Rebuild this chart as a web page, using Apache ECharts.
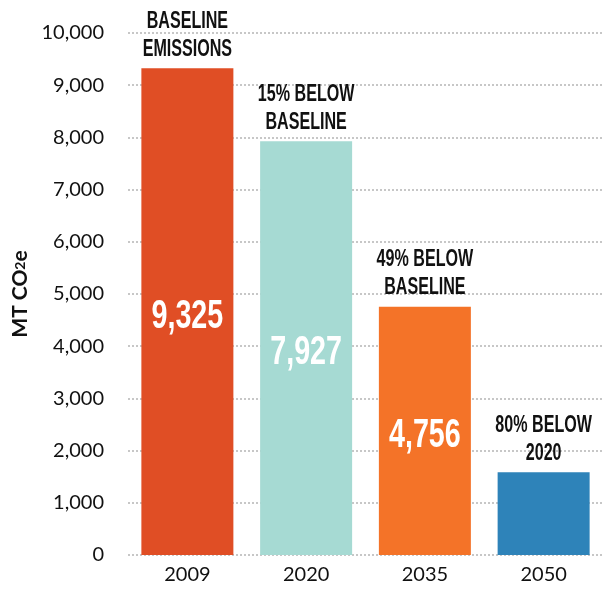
<!DOCTYPE html>
<html>
<head>
<meta charset="utf-8">
<script src="https://cdn.jsdelivr.net/npm/echarts@6/dist/echarts.min.js"></script>
<style>
  html, body { margin: 0; padding: 0; background: #fff; }
  #chart { width: 603px; height: 598px; }
</style>
</head>
<body>
<div id="chart"></div>
<script>
// Emissions targets, MT CO2e
const years = ['2009', '2020', '2035', '2050'];
const emissions = [9325, 7927, 4756, 1585];
const targetNotes = ['BASELINE\nEMISSIONS', '15% BELOW\nBASELINE', '49% BELOW\nBASELINE', '80% BELOW\n2020'];
const showValue = [true, true, true, false];
const yTicks = { min: 0, max: 10000, interval: 1000 };

const palette = ['#E04E25', '#A6DAD3', '#F47328', '#2E83B9'];
const headFont = '"Liberation Sans", Arial, sans-serif';
const squeeze = 0.7; // horizontal squeeze for the condensed headline lettering

const chart = echarts.init(document.getElementById('chart'), null, { renderer: 'canvas' });

// Draws the note above each bar and the value inside it, in narrow lettering.
function renderLabels(params, api) {
  const i = api.value(0);
  const v = api.value(1);
  const top = api.coord([i, v]);
  const base = api.coord([i, 0]);
  const children = [{
    type: 'text',
    x: top[0],
    y: top[1] - 5,
    scaleX: squeeze,
    style: {
      text: targetNotes[i],
      font: 'bold 23px ' + headFont,
      fill: '#111',
      align: 'center',
      verticalAlign: 'bottom',
      lineHeight: 28
    }
  }];
  if (showValue[i]) {
    children.push({
      type: 'text',
      x: top[0],
      y: (top[1] + base[1]) / 2 + 5,
      scaleX: squeeze,
      style: {
        text: v.toLocaleString('en-US'),
        font: 'bold 41px ' + headFont,
        fill: '#fff',
        align: 'center',
        verticalAlign: 'middle'
      }
    });
  }
  return { type: 'group', children };
}

chart.setOption({
  animation: false,
  grid: { left: 128, top: 33, width: 478, height: 522, containLabel: false },
  xAxis: {
    type: 'category',
    data: years,
    axisLine: { show: false },
    axisTick: { show: false },
    axisLabel: { color: '#111', fontFamily: 'Lato, sans-serif', fontSize: 20, margin: 10 }
  },
  yAxis: {
    type: 'value',
    min: yTicks.min,
    max: yTicks.max,
    interval: yTicks.interval,
    name: '{a|MT CO}{b|2}{a|e}',
    nameLocation: 'middle',
    nameGap: 95,
    nameRotate: 90,
    nameTextStyle: {
      rich: {
        a: { fontFamily: 'Lato, sans-serif', fontWeight: 'bold', fontSize: 21, color: '#111' },
        b: { fontFamily: 'Lato, sans-serif', fontWeight: 'bold', fontSize: 14, color: '#111' }
      }
    },
    axisLine: { show: false },
    axisTick: { show: false },
    axisLabel: {
      color: '#111', fontFamily: 'Lato, sans-serif', fontSize: 20, margin: 24,
      formatter: v => v.toLocaleString('en-US')
    },
    splitLine: { lineStyle: { color: '#b5b5b5', type: [2, 2], width: 1.5 } }
  },
  series: [
    {
      type: 'bar',
      barWidth: 92,
      data: emissions.map((v, i) => ({ value: v, itemStyle: { color: palette[i] } })),
      z: 3
    },
    {
      type: 'custom',
      renderItem: renderLabels,
      data: emissions.map((v, i) => [i, v]),
      encode: { x: 0, y: 1 },
      silent: true,
      z: 5
    }
  ]
});
</script>
</body>
</html>
